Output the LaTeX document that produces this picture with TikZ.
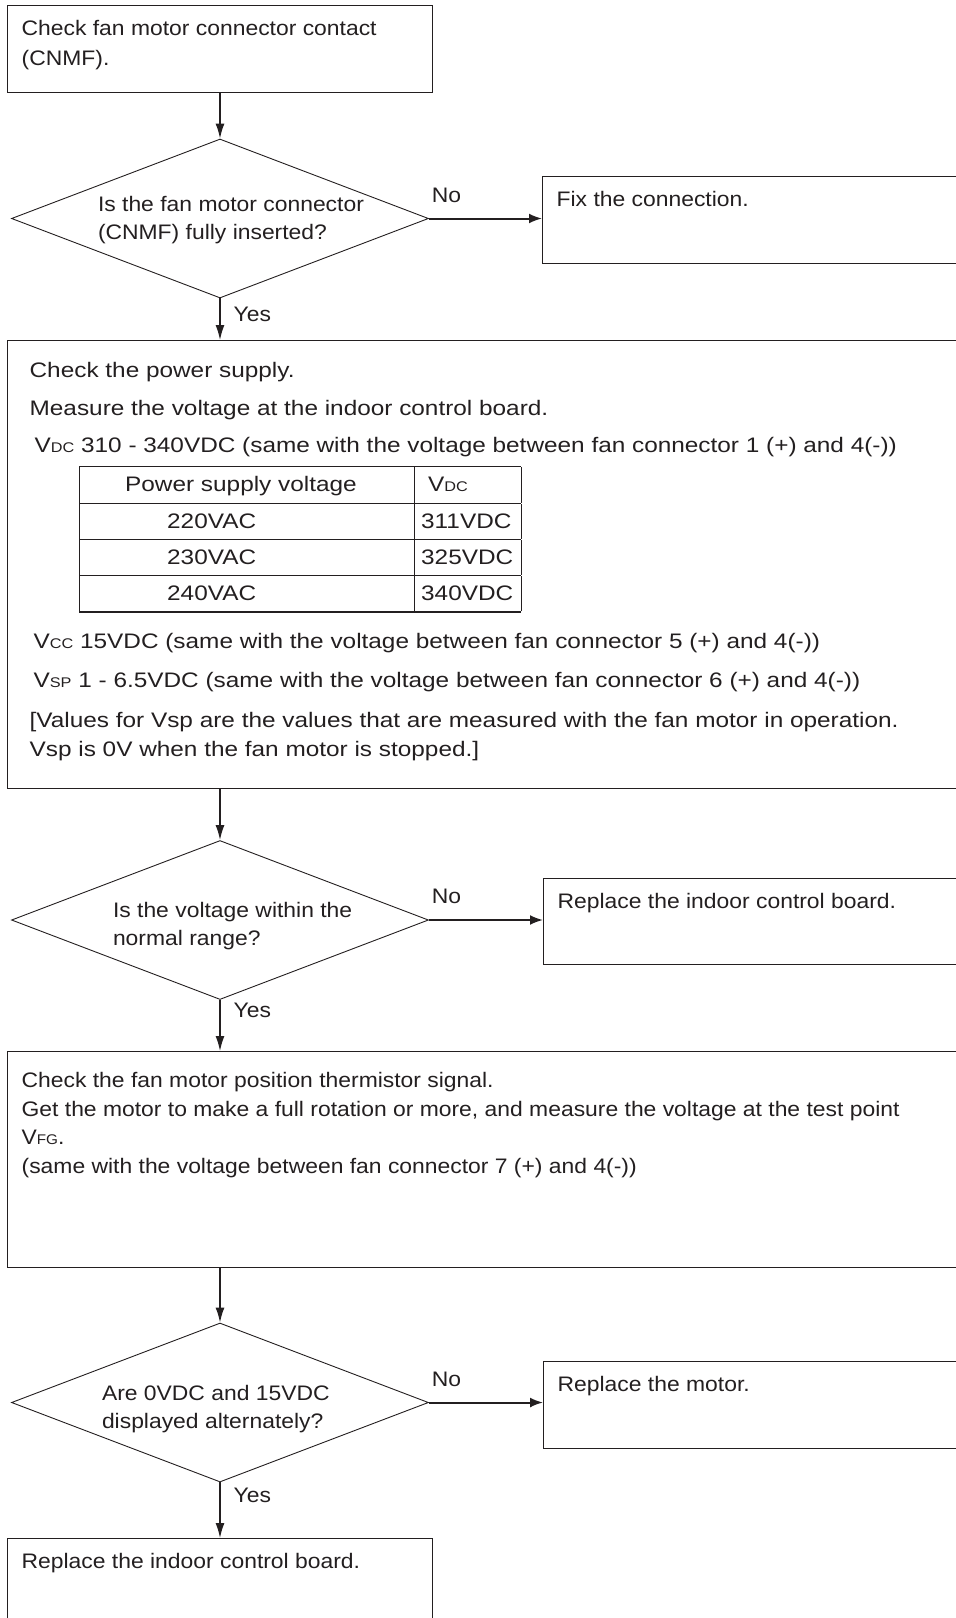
\documentclass[tikz,border=0pt]{standalone}
\usepackage{fontspec}
\setmainfont[FakeStretch=1.09]{Liberation Sans}
\newfontfamily\widefont[FakeStretch=1.16]{Liberation Sans}
\usetikzlibrary{shapes.geometric,arrows.meta,positioning,calc}
\definecolor{ink}{RGB}{35,31,32}

\newcommand{\vsub}[1]{{\fontsize{14}{14}\selectfont #1}}
\newcommand{\boxtext}[3]{\parbox[c][#2][t]{#1}{#3}}
\newcommand{\asktext}[3]{\makebox[0pt][l]{\hspace*{#1}\raisebox{#2}[0pt][0pt]{\parbox[t]{300pt}{#3}}}}

\begin{document}
\begin{tikzpicture}[
x=1pt, y=-1pt,
font=\fontsize{21}{28.5}\selectfont,
every node/.style={text=ink},
stepbox/.style={draw=ink, line width=1.3pt, anchor=north west, inner xsep=14pt, inner ysep=15pt},
decision/.style={draw=ink, line width=0.9pt, diamond, inner sep=0pt, minimum width=417pt, minimum height=159pt},
flow/.style={draw=ink, line width=1.4pt, -{Latex[length=15pt,width=9pt]}},
side/.style={draw=ink, line width=2pt, -{Latex[length=13pt,width=10pt]}},
no/.style={pos=0, anchor=base west, inner sep=0pt, xshift=2pt, yshift=16.5pt},
yes/.style={pos=0, anchor=base west, inner sep=0pt, xshift=13pt, yshift=-20pt},
]
	\useasboundingbox (0,0) rectangle (956,1618);
	\clip (0,0) rectangle (956,1618);

	\node[stepbox] (start) at (7,5) {\boxtext{397pt}{57pt}{Check fan motor connector contact\\[1.5pt](CNMF).}};
	\node[decision] (q1) at (220,218.5) {\asktext{-122pt}{7.5pt}{Is the fan motor connector\\(CNMF) fully inserted?}};
	\node[stepbox] (fix) at (542,176) {\boxtext{405pt}{57pt}{Fix the connection.}};

	% power supply check
	\node[stepbox, inner xsep=22pt, inner ysep=22pt] (power) at (7,340) {\widefont\boxtext{924pt}{404pt}{%
		Check the power supply.\\[9.5pt]
		Measure the voltage at the indoor control board.\\[8.5pt]
		\hspace*{5pt}V\vsub{DC} 310 - 340VDC (same with the voltage between fan connector 1 (+) and 4(-))\\[167.5pt]
		\hspace*{4pt}V\vsub{CC} 15VDC (same with the voltage between fan connector 5 (+) and 4(-))\\[10.5pt]
		\hspace*{4pt}V\vsub{SP} 1 - 6.5VDC (same with the voltage between fan connector 6 (+) and 4(-))\\[11.5pt]
		{[}Values for Vsp are the values that are measured with the fan motor in operation.\\
		Vsp is 0V when the fan motor is stopped.]}};
	\node[anchor=north west, inner sep=0pt] (volts) at (79,466) {\widefont\fontsize{21}{27}\selectfont
		\setlength\arrayrulewidth{1.2pt}\setlength\tabcolsep{7pt}\renewcommand\arraystretch{1.3}%
		\begin{tabular}{|p{321pt}|p{93pt}|}\hline
		\hspace*{39pt}Power supply voltage & \hspace*{7pt}V\vsub{DC}\\\hline
		\hspace*{81pt}220VAC & 311VDC\\\hline
		\hspace*{81pt}230VAC & 325VDC\\\hline
		\hspace*{81pt}240VAC & 340VDC\\\hline
		\end{tabular}};

	\node[decision] (q2) at (220,920) {\asktext{-107pt}{3pt}{Is the voltage within the\\normal range?}};
	\node[stepbox] (board) at (543,878) {\boxtext{404pt}{56pt}{Replace the indoor control board.}};

	% position signal check
	\node[stepbox, inner ysep=21pt] (signal) at (7,1051) {\boxtext{940pt}{174pt}{%
		Check the fan motor position thermistor signal.\\
		Get the motor to make a full rotation or more, and measure the voltage at the test point\\
		V\vsub{FG}.\\
		(same with the voltage between fan connector 7 (+) and 4(-))}};

	\node[decision] (q3) at (220,1402.5) {\asktext{-118pt}{2.5pt}{Are 0VDC and 15VDC\\displayed alternately?}};
	\node[stepbox] (motor) at (543,1361) {\boxtext{404pt}{57pt}{Replace the motor.}};
	\node[stepbox] (finish) at (7,1538) {\boxtext{397pt}{57pt}{Replace the indoor control board.}};

	\draw[flow] (start.south -| q1.north) -- (q1.north);
	\draw[flow] (q1.south) -- node[yes, yshift=-3pt] {Yes} (q1.south |- power.north);
	\draw[side] (q1.east) -- node[no] {No} (q1.east -| fix.west);
	\draw[flow] (power.south -| q2.north) -- (q2.north);
	\draw[flow] (q2.south) -- node[yes, yshift=2pt] {Yes} (q2.south |- signal.north);
	\draw[side] (q2.east) -- node[no] {No} (q2.east -| board.west);
	\draw[flow] (signal.south -| q3.north) -- (q3.north);
	\draw[flow] (q3.south) -- node[yes] {Yes} (q3.south |- finish.north);
	\draw[side] (q3.east) -- node[no] {No} (q3.east -| motor.west);
\end{tikzpicture}
\end{document}
